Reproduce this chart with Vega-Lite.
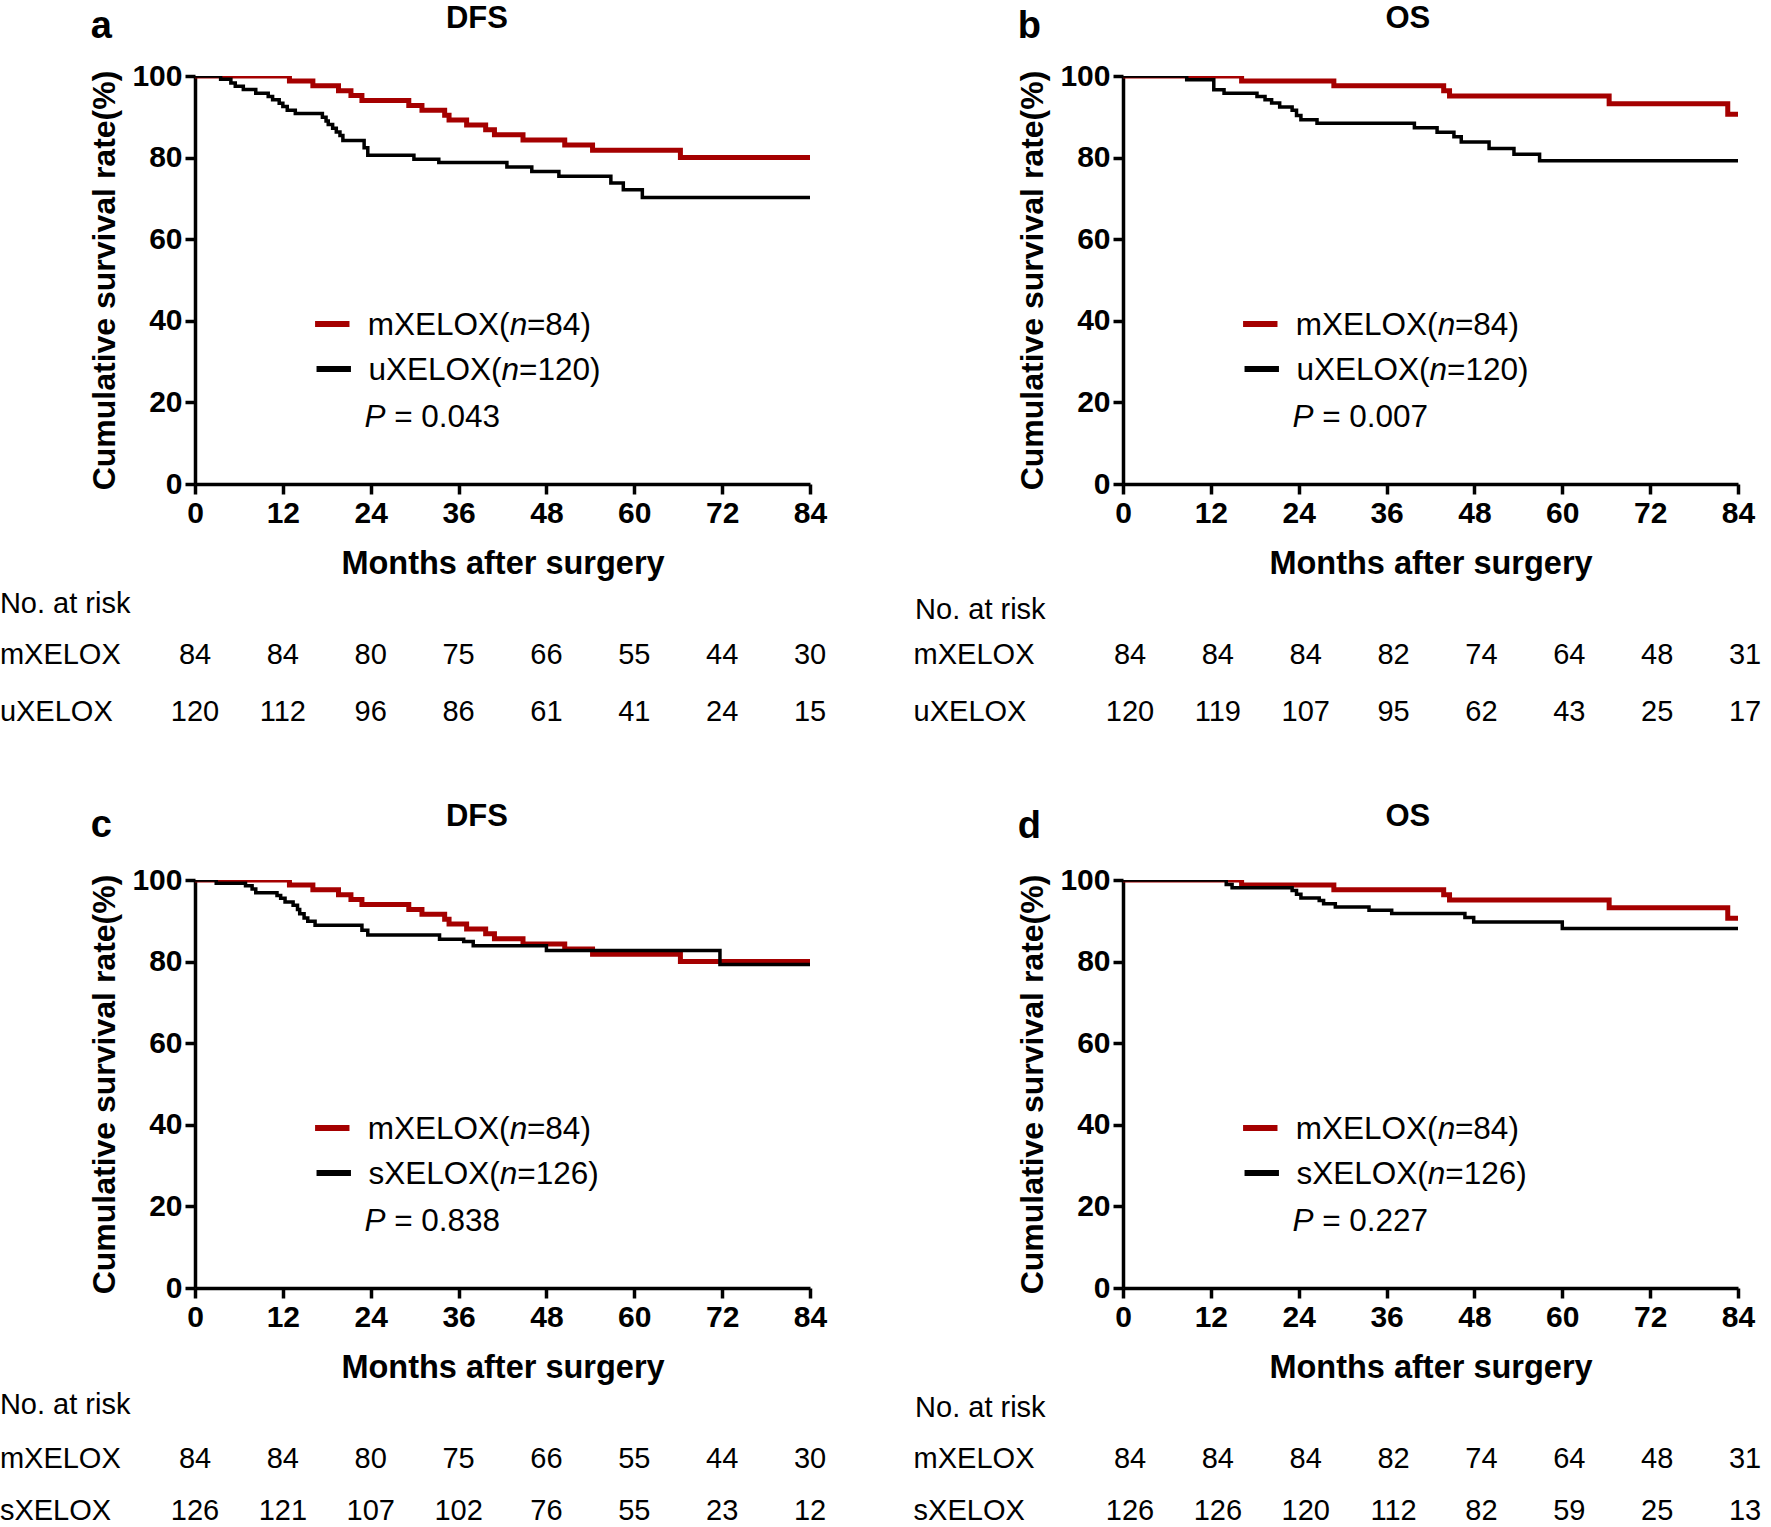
{
  "$schema": "https://vega.github.io/schema/vega-lite/v6.json",
  "autosize": {"type": "none"},
  "padding": {"left": 195, "top": 76, "right": 1576, "bottom": 1451},
  "background": "white",
  "config": {
    "view": {"stroke": null},
    "font": "Liberation Sans",
    "text": {"font": "Liberation Sans", "color": "black", "baseline": "alphabetic", "fontSize": 29},
    "axis": {"domainColor": "black", "domainWidth": 3.5, "tickColor": "black", "tickWidth": 3.5, "tickSize": 10, "labelFont": "Liberation Sans", "labelFontSize": 30, "labelFontWeight": "bold", "labelColor": "black", "titleFont": "Liberation Sans", "titleFontWeight": "bold", "titleColor": "black", "grid": false, "labelFlush": false, "labelOverlap": false},
    "axisX": {"labelPadding": 4, "titlePadding": 19, "titleFontSize": 32.5},
    "axisY": {"labelPadding": 3, "titlePadding": 10, "titleFontSize": 32}
  },
  "datasets": {
    "km": [
      {"e":"DFS","g":"m","m":0,"s":100},{"e":"DFS","g":"m","m":12.9,"s":98.8},{"e":"DFS","g":"m","m":16.1,"s":97.6},{"e":"DFS","g":"m","m":19.6,"s":96.4},{"e":"DFS","g":"m","m":21.3,"s":95.2},{"e":"DFS","g":"m","m":22.8,"s":94.0},{"e":"DFS","g":"m","m":29.2,"s":92.8},{"e":"DFS","g":"m","m":31.0,"s":91.6},{"e":"DFS","g":"m","m":34.1,"s":90.4},{"e":"DFS","g":"m","m":34.7,"s":89.2},{"e":"DFS","g":"m","m":37.1,"s":88.0},{"e":"DFS","g":"m","m":39.7,"s":86.8},{"e":"DFS","g":"m","m":40.9,"s":85.6},{"e":"DFS","g":"m","m":44.8,"s":84.3},{"e":"DFS","g":"m","m":50.5,"s":83.1},{"e":"DFS","g":"m","m":54.3,"s":81.8},{"e":"DFS","g":"m","m":66.3,"s":80.0},{"e":"DFS","g":"m","m":84,"s":80.0},
      {"e":"DFS","g":"u","m":0,"s":100},{"e":"DFS","g":"u","m":3.5,"s":99.2},{"e":"DFS","g":"u","m":4.9,"s":98.3},{"e":"DFS","g":"u","m":5.5,"s":97.5},{"e":"DFS","g":"u","m":6.6,"s":96.7},{"e":"DFS","g":"u","m":8.3,"s":95.8},{"e":"DFS","g":"u","m":10.0,"s":95.0},{"e":"DFS","g":"u","m":10.6,"s":94.2},{"e":"DFS","g":"u","m":11.5,"s":93.3},{"e":"DFS","g":"u","m":12.0,"s":92.5},{"e":"DFS","g":"u","m":12.6,"s":91.6},{"e":"DFS","g":"u","m":13.7,"s":90.8},{"e":"DFS","g":"u","m":17.4,"s":89.9},{"e":"DFS","g":"u","m":17.9,"s":89.0},{"e":"DFS","g":"u","m":18.2,"s":88.1},{"e":"DFS","g":"u","m":18.8,"s":87.2},{"e":"DFS","g":"u","m":19.3,"s":86.3},{"e":"DFS","g":"u","m":19.8,"s":85.4},{"e":"DFS","g":"u","m":20.2,"s":84.2},{"e":"DFS","g":"u","m":23.1,"s":82.4},{"e":"DFS","g":"u","m":23.6,"s":80.6},{"e":"DFS","g":"u","m":29.9,"s":79.6},{"e":"DFS","g":"u","m":33.3,"s":78.8},{"e":"DFS","g":"u","m":42.6,"s":77.7},{"e":"DFS","g":"u","m":46.0,"s":76.6},{"e":"DFS","g":"u","m":49.7,"s":75.4},{"e":"DFS","g":"u","m":56.8,"s":73.8},{"e":"DFS","g":"u","m":58.5,"s":72.1},{"e":"DFS","g":"u","m":61.1,"s":70.2},{"e":"DFS","g":"u","m":84,"s":70.2},
      {"e":"DFS","g":"s","m":0,"s":100},{"e":"DFS","g":"s","m":2.9,"s":99.2},{"e":"DFS","g":"s","m":6.9,"s":98.6},{"e":"DFS","g":"s","m":7.8,"s":97.8},{"e":"DFS","g":"s","m":8.3,"s":96.9},{"e":"DFS","g":"s","m":11.2,"s":96.2},{"e":"DFS","g":"s","m":11.7,"s":95.5},{"e":"DFS","g":"s","m":12.3,"s":94.6},{"e":"DFS","g":"s","m":13.4,"s":93.8},{"e":"DFS","g":"s","m":14.0,"s":92.8},{"e":"DFS","g":"s","m":14.3,"s":91.7},{"e":"DFS","g":"s","m":14.9,"s":90.7},{"e":"DFS","g":"s","m":15.4,"s":89.9},{"e":"DFS","g":"s","m":16.4,"s":88.9},{"e":"DFS","g":"s","m":22.8,"s":87.7},{"e":"DFS","g":"s","m":23.6,"s":86.5},{"e":"DFS","g":"s","m":33.4,"s":85.5},{"e":"DFS","g":"s","m":36.7,"s":84.9},{"e":"DFS","g":"s","m":38.0,"s":83.9},{"e":"DFS","g":"s","m":48.0,"s":82.7},{"e":"DFS","g":"s","m":71.7,"s":79.3},{"e":"DFS","g":"s","m":84,"s":79.3},
      {"e":"OS","g":"m","m":0,"s":100},{"e":"OS","g":"m","m":16.2,"s":98.8},{"e":"OS","g":"m","m":28.8,"s":97.6},{"e":"OS","g":"m","m":43.8,"s":96.4},{"e":"OS","g":"m","m":44.6,"s":95.1},{"e":"OS","g":"m","m":66.4,"s":93.2},{"e":"OS","g":"m","m":82.6,"s":90.6},{"e":"OS","g":"m","m":84,"s":90.6},
      {"e":"OS","g":"u","m":0,"s":100},{"e":"OS","g":"u","m":8.7,"s":99.1},{"e":"OS","g":"u","m":12.4,"s":96.6},{"e":"OS","g":"u","m":13.8,"s":95.8},{"e":"OS","g":"u","m":18.3,"s":95.0},{"e":"OS","g":"u","m":19.4,"s":94.2},{"e":"OS","g":"u","m":20.3,"s":93.4},{"e":"OS","g":"u","m":21.4,"s":92.4},{"e":"OS","g":"u","m":23.1,"s":91.6},{"e":"OS","g":"u","m":23.7,"s":90.3},{"e":"OS","g":"u","m":24.3,"s":89.3},{"e":"OS","g":"u","m":26.5,"s":88.4},{"e":"OS","g":"u","m":39.8,"s":87.3},{"e":"OS","g":"u","m":42.9,"s":86.2},{"e":"OS","g":"u","m":45.2,"s":85.1},{"e":"OS","g":"u","m":46.2,"s":83.8},{"e":"OS","g":"u","m":50.0,"s":82.2},{"e":"OS","g":"u","m":53.4,"s":80.8},{"e":"OS","g":"u","m":56.9,"s":79.2},{"e":"OS","g":"u","m":84,"s":79.2},
      {"e":"OS","g":"s","m":0,"s":100},{"e":"OS","g":"s","m":14.1,"s":98.9},{"e":"OS","g":"s","m":14.9,"s":98.1},{"e":"OS","g":"s","m":23.1,"s":97.4},{"e":"OS","g":"s","m":23.7,"s":96.5},{"e":"OS","g":"s","m":24.3,"s":95.6},{"e":"OS","g":"s","m":26.8,"s":95.0},{"e":"OS","g":"s","m":27.4,"s":94.2},{"e":"OS","g":"s","m":29.0,"s":93.4},{"e":"OS","g":"s","m":33.6,"s":92.6},{"e":"OS","g":"s","m":36.7,"s":91.8},{"e":"OS","g":"s","m":46.7,"s":90.8},{"e":"OS","g":"s","m":47.9,"s":89.7},{"e":"OS","g":"s","m":60.0,"s":88.1},{"e":"OS","g":"s","m":84,"s":88.1}
    ],
    "risk": [
      {"e":"DFS","g":"m","m":0,"n":84},{"e":"DFS","g":"m","m":12,"n":84},{"e":"DFS","g":"m","m":24,"n":80},{"e":"DFS","g":"m","m":36,"n":75},{"e":"DFS","g":"m","m":48,"n":66},{"e":"DFS","g":"m","m":60,"n":55},{"e":"DFS","g":"m","m":72,"n":44},{"e":"DFS","g":"m","m":84,"n":30},
      {"e":"DFS","g":"u","m":0,"n":120},{"e":"DFS","g":"u","m":12,"n":112},{"e":"DFS","g":"u","m":24,"n":96},{"e":"DFS","g":"u","m":36,"n":86},{"e":"DFS","g":"u","m":48,"n":61},{"e":"DFS","g":"u","m":60,"n":41},{"e":"DFS","g":"u","m":72,"n":24},{"e":"DFS","g":"u","m":84,"n":15},
      {"e":"DFS","g":"s","m":0,"n":126},{"e":"DFS","g":"s","m":12,"n":121},{"e":"DFS","g":"s","m":24,"n":107},{"e":"DFS","g":"s","m":36,"n":102},{"e":"DFS","g":"s","m":48,"n":76},{"e":"DFS","g":"s","m":60,"n":55},{"e":"DFS","g":"s","m":72,"n":23},{"e":"DFS","g":"s","m":84,"n":12},
      {"e":"OS","g":"m","m":0,"n":84},{"e":"OS","g":"m","m":12,"n":84},{"e":"OS","g":"m","m":24,"n":84},{"e":"OS","g":"m","m":36,"n":82},{"e":"OS","g":"m","m":48,"n":74},{"e":"OS","g":"m","m":60,"n":64},{"e":"OS","g":"m","m":72,"n":48},{"e":"OS","g":"m","m":84,"n":31},
      {"e":"OS","g":"u","m":0,"n":120},{"e":"OS","g":"u","m":12,"n":119},{"e":"OS","g":"u","m":24,"n":107},{"e":"OS","g":"u","m":36,"n":95},{"e":"OS","g":"u","m":48,"n":62},{"e":"OS","g":"u","m":60,"n":43},{"e":"OS","g":"u","m":72,"n":25},{"e":"OS","g":"u","m":84,"n":17},
      {"e":"OS","g":"s","m":0,"n":126},{"e":"OS","g":"s","m":12,"n":126},{"e":"OS","g":"s","m":24,"n":120},{"e":"OS","g":"s","m":36,"n":112},{"e":"OS","g":"s","m":48,"n":82},{"e":"OS","g":"s","m":60,"n":59},{"e":"OS","g":"s","m":72,"n":25},{"e":"OS","g":"s","m":84,"n":13}
    ],
    "one": [{}]
  },
  "columns": 2,
  "spacing": {"row": 396, "column": 313},
  "bounds": "flush",
  "concat": [
    {
      "width": 615, "height": 408,
      "layer": [
        {"data": {"name": "km"}, "transform": [{"filter": "datum.e=='DFS' && datum.g=='m'"}], "mark": {"type": "line", "interpolate": "step-after", "clip": true, "color": "#a50000", "strokeWidth": 5},
         "encoding": {"x": {"field": "m", "type": "quantitative", "scale": {"domain": [0, 84], "nice": false}, "axis": {"values": [0, 12, 24, 36, 48, 60, 72, 84], "title": "Months after surgery"}},
                      "y": {"field": "s", "type": "quantitative", "scale": {"domain": [0, 100], "nice": false}, "axis": {"values": [0, 20, 40, 60, 80, 100], "title": "Cumulative survival rate(%)"}}}},
        {"data": {"name": "km"}, "transform": [{"filter": "datum.e=='DFS' && datum.g=='u'"}], "mark": {"type": "line", "interpolate": "step-after", "clip": true, "color": "black", "strokeWidth": 3.5},
         "encoding": {"x": {"field": "m", "type": "quantitative"}, "y": {"field": "s", "type": "quantitative"}}},
        {"data": {"name": "risk"}, "transform": [{"filter": "datum.e=='DFS' && datum.g=='m'"}], "mark": {"type": "text", "align": "center"}, "encoding": {"x": {"field": "m", "type": "quantitative"}, "y": {"datum": -44}, "text": {"field": "n"}}},
        {"data": {"name": "risk"}, "transform": [{"filter": "datum.e=='DFS' && datum.g=='u'"}], "mark": {"type": "text", "align": "center"}, "encoding": {"x": {"field": "m", "type": "quantitative"}, "y": {"datum": -58.2}, "text": {"field": "n"}}},
        {"data": {"name": "one"}, "mark": {"type": "text", "text": "No. at risk", "align": "left"}, "encoding": {"x": {"datum": -26.65}, "y": {"datum": -31.5}}},
        {"data": {"name": "one"}, "mark": {"type": "text", "text": "mXELOX", "align": "left"}, "encoding": {"x": {"datum": -26.65}, "y": {"datum": -44}}},
        {"data": {"name": "one"}, "mark": {"type": "text", "text": "uXELOX", "align": "left"}, "encoding": {"x": {"datum": -26.65}, "y": {"datum": -58.2}}},
        {"data": {"name": "one"}, "mark": {"type": "text", "text": "a", "fontSize": 38, "fontWeight": "bold", "align": "center"}, "encoding": {"x": {"datum": -12.8}, "y": {"datum": 109.4}}},
        {"data": {"name": "one"}, "mark": {"type": "text", "text": "DFS", "fontSize": 31, "fontWeight": "bold", "align": "center"}, "encoding": {"x": {"datum": 38.5}, "y": {"datum": 111.8}}},
        {"data": {"name": "one"}, "mark": {"type": "rule", "color": "#a50000", "strokeWidth": 6}, "encoding": {"x": {"datum": 16.4}, "x2": {"datum": 21.1}, "y": {"datum": 39.2}}},
        {"data": {"name": "one"}, "mark": {"type": "rule", "color": "black", "strokeWidth": 6}, "encoding": {"x": {"datum": 16.6}, "x2": {"datum": 21.3}, "y": {"datum": 28.2}}},
        {"data": {"name": "one"}, "mark": {"type": "text", "text": "mXELOX(", "fontSize": 31.5, "align": "left"}, "encoding": {"x": {"datum": 23.6}, "y": {"datum": 36.4}}},
        {"data": {"name": "one"}, "mark": {"type": "text", "text": "n", "fontSize": 31.5, "fontStyle": "italic", "align": "left"}, "encoding": {"x": {"datum": 43.0}, "y": {"datum": 36.4}}},
        {"data": {"name": "one"}, "mark": {"type": "text", "text": "=84)", "fontSize": 31.5, "align": "left"}, "encoding": {"x": {"datum": 45.34}, "y": {"datum": 36.4}}},
        {"data": {"name": "one"}, "mark": {"type": "text", "text": "uXELOX(", "fontSize": 31.5, "align": "left"}, "encoding": {"x": {"datum": 23.7}, "y": {"datum": 25.4}}},
        {"data": {"name": "one"}, "mark": {"type": "text", "text": "n", "fontSize": 31.5, "fontStyle": "italic", "align": "left"}, "encoding": {"x": {"datum": 41.88}, "y": {"datum": 25.4}}},
        {"data": {"name": "one"}, "mark": {"type": "text", "text": "=120)", "fontSize": 31.5, "align": "left"}, "encoding": {"x": {"datum": 44.27}, "y": {"datum": 25.4}}},
        {"data": {"name": "one"}, "mark": {"type": "text", "text": "P", "fontSize": 31.5, "fontStyle": "italic", "align": "left"}, "encoding": {"x": {"datum": 23.15}, "y": {"datum": 14.0}}},
        {"data": {"name": "one"}, "mark": {"type": "text", "text": "= 0.043", "fontSize": 31.5, "align": "left"}, "encoding": {"x": {"datum": 27.2}, "y": {"datum": 14.0}}}
      ]
    },
    {
      "width": 615, "height": 408,
      "layer": [
        {"data": {"name": "km"}, "transform": [{"filter": "datum.e=='OS' && datum.g=='m'"}], "mark": {"type": "line", "interpolate": "step-after", "clip": true, "color": "#a50000", "strokeWidth": 5},
         "encoding": {"x": {"field": "m", "type": "quantitative", "scale": {"domain": [0, 84], "nice": false}, "axis": {"values": [0, 12, 24, 36, 48, 60, 72, 84], "title": "Months after surgery"}},
                      "y": {"field": "s", "type": "quantitative", "scale": {"domain": [0, 100], "nice": false}, "axis": {"values": [0, 20, 40, 60, 80, 100], "title": "Cumulative survival rate(%)"}}}},
        {"data": {"name": "km"}, "transform": [{"filter": "datum.e=='OS' && datum.g=='u'"}], "mark": {"type": "line", "interpolate": "step-after", "clip": true, "color": "black", "strokeWidth": 3.5},
         "encoding": {"x": {"field": "m", "type": "quantitative"}, "y": {"field": "s", "type": "quantitative"}}},
        {"data": {"name": "risk"}, "transform": [{"filter": "datum.e=='OS' && datum.g=='m'"}], "mark": {"type": "text", "align": "center", "dx": 7}, "encoding": {"x": {"field": "m", "type": "quantitative"}, "y": {"datum": -44}, "text": {"field": "n"}}},
        {"data": {"name": "risk"}, "transform": [{"filter": "datum.e=='OS' && datum.g=='u'"}], "mark": {"type": "text", "align": "center", "dx": 7}, "encoding": {"x": {"field": "m", "type": "quantitative"}, "y": {"datum": -58.2}, "text": {"field": "n"}}},
        {"data": {"name": "one"}, "mark": {"type": "text", "text": "No. at risk", "align": "left"}, "encoding": {"x": {"datum": -28.4}, "y": {"datum": -33.2}}},
        {"data": {"name": "one"}, "mark": {"type": "text", "text": "mXELOX", "align": "left"}, "encoding": {"x": {"datum": -28.6}, "y": {"datum": -44}}},
        {"data": {"name": "one"}, "mark": {"type": "text", "text": "uXELOX", "align": "left"}, "encoding": {"x": {"datum": -28.6}, "y": {"datum": -58.2}}},
        {"data": {"name": "one"}, "mark": {"type": "text", "text": "b", "fontSize": 38, "fontWeight": "bold", "align": "center"}, "encoding": {"x": {"datum": -12.8}, "y": {"datum": 109.4}}},
        {"data": {"name": "one"}, "mark": {"type": "text", "text": "OS", "fontSize": 31, "fontWeight": "bold", "align": "center"}, "encoding": {"x": {"datum": 38.9}, "y": {"datum": 111.8}}},
        {"data": {"name": "one"}, "mark": {"type": "rule", "color": "#a50000", "strokeWidth": 6}, "encoding": {"x": {"datum": 16.4}, "x2": {"datum": 21.1}, "y": {"datum": 39.2}}},
        {"data": {"name": "one"}, "mark": {"type": "rule", "color": "black", "strokeWidth": 6}, "encoding": {"x": {"datum": 16.6}, "x2": {"datum": 21.3}, "y": {"datum": 28.2}}},
        {"data": {"name": "one"}, "mark": {"type": "text", "text": "mXELOX(", "fontSize": 31.5, "align": "left"}, "encoding": {"x": {"datum": 23.6}, "y": {"datum": 36.4}}},
        {"data": {"name": "one"}, "mark": {"type": "text", "text": "n", "fontSize": 31.5, "fontStyle": "italic", "align": "left"}, "encoding": {"x": {"datum": 43.0}, "y": {"datum": 36.4}}},
        {"data": {"name": "one"}, "mark": {"type": "text", "text": "=84)", "fontSize": 31.5, "align": "left"}, "encoding": {"x": {"datum": 45.34}, "y": {"datum": 36.4}}},
        {"data": {"name": "one"}, "mark": {"type": "text", "text": "uXELOX(", "fontSize": 31.5, "align": "left"}, "encoding": {"x": {"datum": 23.7}, "y": {"datum": 25.4}}},
        {"data": {"name": "one"}, "mark": {"type": "text", "text": "n", "fontSize": 31.5, "fontStyle": "italic", "align": "left"}, "encoding": {"x": {"datum": 41.88}, "y": {"datum": 25.4}}},
        {"data": {"name": "one"}, "mark": {"type": "text", "text": "=120)", "fontSize": 31.5, "align": "left"}, "encoding": {"x": {"datum": 44.27}, "y": {"datum": 25.4}}},
        {"data": {"name": "one"}, "mark": {"type": "text", "text": "P", "fontSize": 31.5, "fontStyle": "italic", "align": "left"}, "encoding": {"x": {"datum": 23.15}, "y": {"datum": 14.0}}},
        {"data": {"name": "one"}, "mark": {"type": "text", "text": "= 0.007", "fontSize": 31.5, "align": "left"}, "encoding": {"x": {"datum": 27.2}, "y": {"datum": 14.0}}}
      ]
    },
    {
      "width": 615, "height": 408,
      "layer": [
        {"data": {"name": "km"}, "transform": [{"filter": "datum.e=='DFS' && datum.g=='m'"}], "mark": {"type": "line", "interpolate": "step-after", "clip": true, "color": "#a50000", "strokeWidth": 5},
         "encoding": {"x": {"field": "m", "type": "quantitative", "scale": {"domain": [0, 84], "nice": false}, "axis": {"values": [0, 12, 24, 36, 48, 60, 72, 84], "title": "Months after surgery"}},
                      "y": {"field": "s", "type": "quantitative", "scale": {"domain": [0, 100], "nice": false}, "axis": {"values": [0, 20, 40, 60, 80, 100], "title": "Cumulative survival rate(%)"}}}},
        {"data": {"name": "km"}, "transform": [{"filter": "datum.e=='DFS' && datum.g=='s'"}], "mark": {"type": "line", "interpolate": "step-after", "clip": true, "color": "black", "strokeWidth": 3.5},
         "encoding": {"x": {"field": "m", "type": "quantitative"}, "y": {"field": "s", "type": "quantitative"}}},
        {"data": {"name": "risk"}, "transform": [{"filter": "datum.e=='DFS' && datum.g=='m'"}], "mark": {"type": "text", "align": "center"}, "encoding": {"x": {"field": "m", "type": "quantitative"}, "y": {"datum": -44}, "text": {"field": "n"}}},
        {"data": {"name": "risk"}, "transform": [{"filter": "datum.e=='DFS' && datum.g=='s'"}], "mark": {"type": "text", "align": "center"}, "encoding": {"x": {"field": "m", "type": "quantitative"}, "y": {"datum": -56.9}, "text": {"field": "n"}}},
        {"data": {"name": "one"}, "mark": {"type": "text", "text": "No. at risk", "align": "left"}, "encoding": {"x": {"datum": -26.65}, "y": {"datum": -30.9}}},
        {"data": {"name": "one"}, "mark": {"type": "text", "text": "mXELOX", "align": "left"}, "encoding": {"x": {"datum": -26.65}, "y": {"datum": -44}}},
        {"data": {"name": "one"}, "mark": {"type": "text", "text": "sXELOX", "align": "left"}, "encoding": {"x": {"datum": -26.65}, "y": {"datum": -56.9}}},
        {"data": {"name": "one"}, "mark": {"type": "text", "text": "c", "fontSize": 38, "fontWeight": "bold", "align": "center"}, "encoding": {"x": {"datum": -12.8}, "y": {"datum": 110.5}}},
        {"data": {"name": "one"}, "mark": {"type": "text", "text": "DFS", "fontSize": 31, "fontWeight": "bold", "align": "center"}, "encoding": {"x": {"datum": 38.5}, "y": {"datum": 113.2}}},
        {"data": {"name": "one"}, "mark": {"type": "rule", "color": "#a50000", "strokeWidth": 6}, "encoding": {"x": {"datum": 16.4}, "x2": {"datum": 21.1}, "y": {"datum": 39.2}}},
        {"data": {"name": "one"}, "mark": {"type": "rule", "color": "black", "strokeWidth": 6}, "encoding": {"x": {"datum": 16.6}, "x2": {"datum": 21.3}, "y": {"datum": 28.2}}},
        {"data": {"name": "one"}, "mark": {"type": "text", "text": "mXELOX(", "fontSize": 31.5, "align": "left"}, "encoding": {"x": {"datum": 23.6}, "y": {"datum": 36.4}}},
        {"data": {"name": "one"}, "mark": {"type": "text", "text": "n", "fontSize": 31.5, "fontStyle": "italic", "align": "left"}, "encoding": {"x": {"datum": 43.0}, "y": {"datum": 36.4}}},
        {"data": {"name": "one"}, "mark": {"type": "text", "text": "=84)", "fontSize": 31.5, "align": "left"}, "encoding": {"x": {"datum": 45.34}, "y": {"datum": 36.4}}},
        {"data": {"name": "one"}, "mark": {"type": "text", "text": "sXELOX(", "fontSize": 31.5, "align": "left"}, "encoding": {"x": {"datum": 23.7}, "y": {"datum": 25.4}}},
        {"data": {"name": "one"}, "mark": {"type": "text", "text": "n", "fontSize": 31.5, "fontStyle": "italic", "align": "left"}, "encoding": {"x": {"datum": 41.63}, "y": {"datum": 25.4}}},
        {"data": {"name": "one"}, "mark": {"type": "text", "text": "=126)", "fontSize": 31.5, "align": "left"}, "encoding": {"x": {"datum": 44.02}, "y": {"datum": 25.4}}},
        {"data": {"name": "one"}, "mark": {"type": "text", "text": "P", "fontSize": 31.5, "fontStyle": "italic", "align": "left"}, "encoding": {"x": {"datum": 23.15}, "y": {"datum": 14.0}}},
        {"data": {"name": "one"}, "mark": {"type": "text", "text": "= 0.838", "fontSize": 31.5, "align": "left"}, "encoding": {"x": {"datum": 27.2}, "y": {"datum": 14.0}}}
      ]
    },
    {
      "width": 615, "height": 408,
      "layer": [
        {"data": {"name": "km"}, "transform": [{"filter": "datum.e=='OS' && datum.g=='m'"}], "mark": {"type": "line", "interpolate": "step-after", "clip": true, "color": "#a50000", "strokeWidth": 5},
         "encoding": {"x": {"field": "m", "type": "quantitative", "scale": {"domain": [0, 84], "nice": false}, "axis": {"values": [0, 12, 24, 36, 48, 60, 72, 84], "title": "Months after surgery"}},
                      "y": {"field": "s", "type": "quantitative", "scale": {"domain": [0, 100], "nice": false}, "axis": {"values": [0, 20, 40, 60, 80, 100], "title": "Cumulative survival rate(%)"}}}},
        {"data": {"name": "km"}, "transform": [{"filter": "datum.e=='OS' && datum.g=='s'"}], "mark": {"type": "line", "interpolate": "step-after", "clip": true, "color": "black", "strokeWidth": 3.5},
         "encoding": {"x": {"field": "m", "type": "quantitative"}, "y": {"field": "s", "type": "quantitative"}}},
        {"data": {"name": "risk"}, "transform": [{"filter": "datum.e=='OS' && datum.g=='m'"}], "mark": {"type": "text", "align": "center", "dx": 7}, "encoding": {"x": {"field": "m", "type": "quantitative"}, "y": {"datum": -44}, "text": {"field": "n"}}},
        {"data": {"name": "risk"}, "transform": [{"filter": "datum.e=='OS' && datum.g=='s'"}], "mark": {"type": "text", "align": "center", "dx": 7}, "encoding": {"x": {"field": "m", "type": "quantitative"}, "y": {"datum": -56.9}, "text": {"field": "n"}}},
        {"data": {"name": "one"}, "mark": {"type": "text", "text": "No. at risk", "align": "left"}, "encoding": {"x": {"datum": -28.4}, "y": {"datum": -31.5}}},
        {"data": {"name": "one"}, "mark": {"type": "text", "text": "mXELOX", "align": "left"}, "encoding": {"x": {"datum": -28.6}, "y": {"datum": -44}}},
        {"data": {"name": "one"}, "mark": {"type": "text", "text": "sXELOX", "align": "left"}, "encoding": {"x": {"datum": -28.6}, "y": {"datum": -56.9}}},
        {"data": {"name": "one"}, "mark": {"type": "text", "text": "d", "fontSize": 38, "fontWeight": "bold", "align": "center"}, "encoding": {"x": {"datum": -12.8}, "y": {"datum": 110.3}}},
        {"data": {"name": "one"}, "mark": {"type": "text", "text": "OS", "fontSize": 31, "fontWeight": "bold", "align": "center"}, "encoding": {"x": {"datum": 38.9}, "y": {"datum": 113.3}}},
        {"data": {"name": "one"}, "mark": {"type": "rule", "color": "#a50000", "strokeWidth": 6}, "encoding": {"x": {"datum": 16.4}, "x2": {"datum": 21.1}, "y": {"datum": 39.2}}},
        {"data": {"name": "one"}, "mark": {"type": "rule", "color": "black", "strokeWidth": 6}, "encoding": {"x": {"datum": 16.6}, "x2": {"datum": 21.3}, "y": {"datum": 28.2}}},
        {"data": {"name": "one"}, "mark": {"type": "text", "text": "mXELOX(", "fontSize": 31.5, "align": "left"}, "encoding": {"x": {"datum": 23.6}, "y": {"datum": 36.4}}},
        {"data": {"name": "one"}, "mark": {"type": "text", "text": "n", "fontSize": 31.5, "fontStyle": "italic", "align": "left"}, "encoding": {"x": {"datum": 43.0}, "y": {"datum": 36.4}}},
        {"data": {"name": "one"}, "mark": {"type": "text", "text": "=84)", "fontSize": 31.5, "align": "left"}, "encoding": {"x": {"datum": 45.34}, "y": {"datum": 36.4}}},
        {"data": {"name": "one"}, "mark": {"type": "text", "text": "sXELOX(", "fontSize": 31.5, "align": "left"}, "encoding": {"x": {"datum": 23.7}, "y": {"datum": 25.4}}},
        {"data": {"name": "one"}, "mark": {"type": "text", "text": "n", "fontSize": 31.5, "fontStyle": "italic", "align": "left"}, "encoding": {"x": {"datum": 41.63}, "y": {"datum": 25.4}}},
        {"data": {"name": "one"}, "mark": {"type": "text", "text": "=126)", "fontSize": 31.5, "align": "left"}, "encoding": {"x": {"datum": 44.02}, "y": {"datum": 25.4}}},
        {"data": {"name": "one"}, "mark": {"type": "text", "text": "P", "fontSize": 31.5, "fontStyle": "italic", "align": "left"}, "encoding": {"x": {"datum": 23.15}, "y": {"datum": 14.0}}},
        {"data": {"name": "one"}, "mark": {"type": "text", "text": "= 0.227", "fontSize": 31.5, "align": "left"}, "encoding": {"x": {"datum": 27.2}, "y": {"datum": 14.0}}}
      ]
    }
  ]
}
